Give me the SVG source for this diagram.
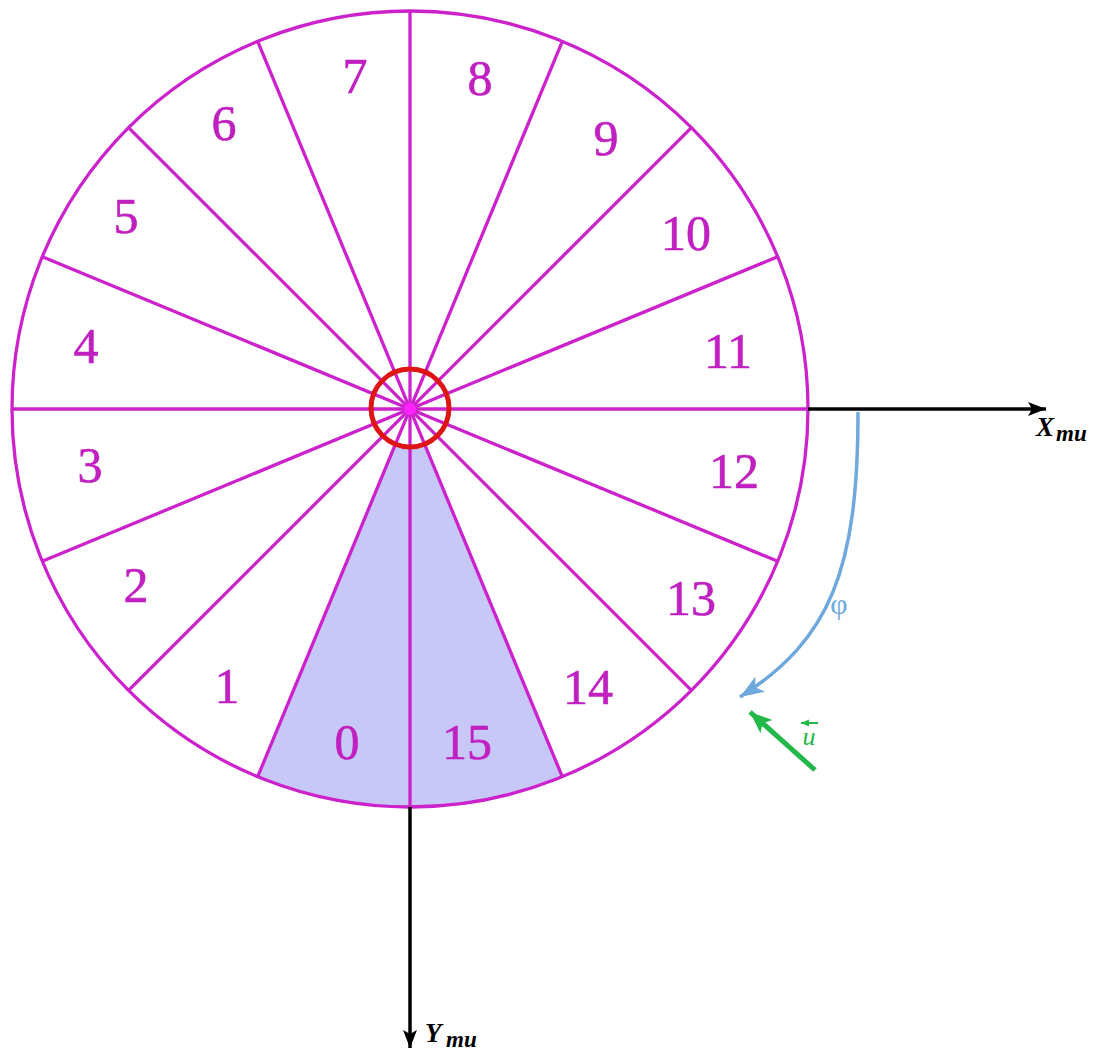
<svg xmlns="http://www.w3.org/2000/svg" width="1093" height="1051" viewBox="0 0 1093 1051">
<style>
.spoke{stroke:#cc22cc;stroke-width:3.3;fill:none}
.num{font-family:"Liberation Serif","Times New Roman",serif;font-size:50px;fill:#c020c0;text-anchor:middle;stroke:#c020c0;stroke-width:0.6}
.axis{stroke:#000;stroke-width:3.5;fill:none}
.lab{font-family:"Liberation Serif","Times New Roman",serif;font-style:italic;font-weight:bold;fill:#000}
</style>
<defs>
<marker id="ah-black" markerUnits="userSpaceOnUse" markerWidth="22" markerHeight="16" refX="18" refY="8" orient="auto">
<path d="M0,1 L18,8 L0,15 L4,8 Z" fill="#000"/>
</marker>
<marker id="ah-blue" markerUnits="userSpaceOnUse" markerWidth="28" markerHeight="22" refX="24" refY="11" orient="auto">
<path d="M0,2 L24,11 L0,20 L6,11 Z" fill="#6fa8dc"/>
</marker>
<marker id="ah-green" markerUnits="userSpaceOnUse" markerWidth="26" markerHeight="22" refX="22" refY="11" orient="auto">
<path d="M0,2 L22,11 L0,20 L5,11 Z" fill="#22b84a"/>
</marker>
<marker id="ah-green-s" markerUnits="userSpaceOnUse" markerWidth="10" markerHeight="8" refX="8" refY="4" orient="auto">
<path d="M0,0.5 L8,4 L0,7.5 Z" fill="#22b84a"/>
</marker>
</defs>
<rect width="1093" height="1051" fill="#fff"/>

<g id="wheel">
<path id="shaded-sector" d="M410,409 L257.69,776.70 A398,398 0 0 0 562.31,776.70 Z" fill="#c8c8f8"/>
<circle cx="410" cy="409" r="39" fill="#fff"/>
<circle cx="410" cy="409" r="398" class="spoke"/>
<line class="spoke" x1="12" y1="409" x2="808" y2="409"/>
<line class="spoke" x1="42.30" y1="256.69" x2="777.70" y2="561.31"/>
<line class="spoke" x1="128.57" y1="127.57" x2="691.43" y2="690.43"/>
<line class="spoke" x1="257.69" y1="41.30" x2="562.31" y2="776.70"/>
<line class="spoke" x1="410" y1="11" x2="410" y2="807"/>
<line class="spoke" x1="562.31" y1="41.30" x2="257.69" y2="776.70"/>
<line class="spoke" x1="691.43" y1="127.57" x2="128.57" y2="690.43"/>
<line class="spoke" x1="777.70" y1="256.69" x2="42.30" y2="561.31"/>
<circle cx="410" cy="409" r="6" fill="#ff22ff"/>
<circle id="hub" cx="410" cy="408" r="39" fill="none" stroke="#dd1515" stroke-width="5"/>
</g>

<g id="sector-labels">
<g id="s0"><text class="num" x="347" y="759">0</text></g>
<g id="s1"><text class="num" x="227" y="703">1</text></g>
<g id="s2"><text class="num" x="136" y="602">2</text></g>
<g id="s3"><text class="num" x="90" y="482">3</text></g>
<g id="s4"><text class="num" x="86" y="363">4</text></g>
<g id="s5"><text class="num" x="126" y="233">5</text></g>
<g id="s6"><text class="num" x="224" y="140">6</text></g>
<g id="s7"><text class="num" x="355" y="93">7</text></g>
<g id="s8"><text class="num" x="480" y="95">8</text></g>
<g id="s9"><text class="num" x="606" y="155">9</text></g>
<g id="s10"><text class="num" x="686" y="250">10</text></g>
<g id="s11"><text class="num" x="728" y="368">11</text></g>
<g id="s12"><text class="num" x="734" y="488">12</text></g>
<g id="s13"><text class="num" x="691" y="615">13</text></g>
<g id="s14"><text class="num" x="588" y="704">14</text></g>
<g id="s15"><text class="num" x="467" y="759">15</text></g>
</g>

<g id="connectors">
<line id="x-axis" class="axis" x1="808" y1="409" x2="1046" y2="409" marker-end="url(#ah-black)"/>
<line id="y-axis" class="axis" x1="410" y1="807" x2="410" y2="1048" marker-end="url(#ah-black)"/>
<path id="phi-arc" d="M858,412 C858,570 830,640 740,697" fill="none" stroke="#6fa8dc" stroke-width="3.5" marker-end="url(#ah-blue)"/>
<line id="u-vector" x1="815" y1="770" x2="750" y2="712" stroke="#22b84a" stroke-width="5" marker-end="url(#ah-green)"/>
</g>

<g id="labels">
<g id="x-label"><text class="lab" x="1036" y="436" font-size="27">X</text><text class="lab" x="1056" y="441" font-size="23">mu</text></g>
<g id="y-label"><text class="lab" x="425" y="1042" font-size="27">Y</text><text class="lab" x="446" y="1047" font-size="23">mu</text></g>
<g id="phi-label"><text x="839" y="614" font-family="'Liberation Serif','Times New Roman',serif" font-size="30" fill="#6fa8dc" text-anchor="middle">φ</text></g>
<g id="u-label"><line x1="818" y1="723" x2="801" y2="723" stroke="#22b84a" stroke-width="2" marker-end="url(#ah-green-s)"/><text x="809" y="745" font-family="'Liberation Serif','Times New Roman',serif" font-style="italic" font-size="26" fill="#22b84a" text-anchor="middle">u</text></g>
</g>
</svg>
